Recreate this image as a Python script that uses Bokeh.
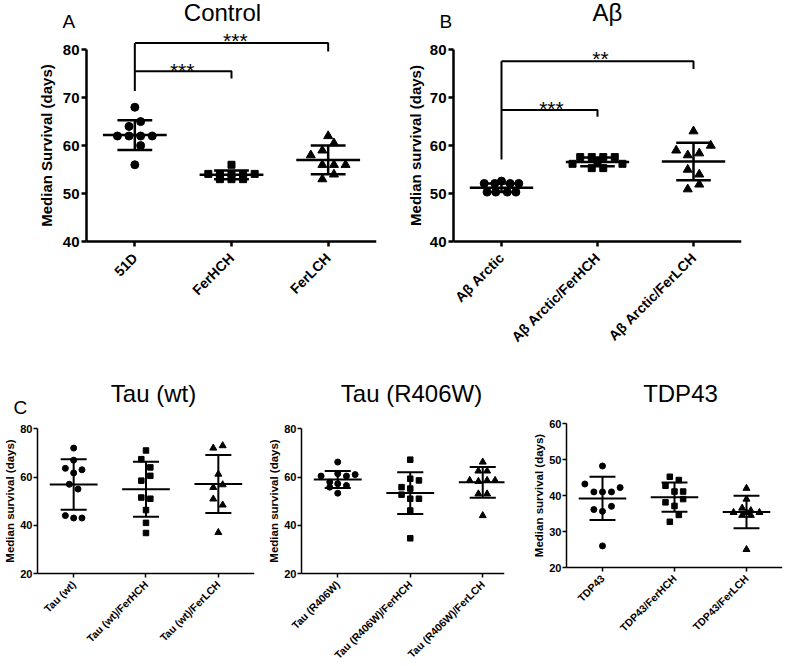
import math
import numpy as np
from bokeh.plotting import figure
from bokeh.models import FixedTicker
from bokeh.layouts import row, column
from bokeh.core.properties import value
from bokeh.embed import file_html
from bokeh.resources import INLINE

FONT = "Liberation Sans"

# ---------------- Panel A: Control ----------------
a_labels = ["51D", "FerHCH", "FerLCH"]
a_51d = [68, 65, 64, 62, 62, 62, 62, 60, 56]
a_51d_dx = [0, .06, -.06, -.18, -.06, .06, .18, .06, 0]
a_ferhch = [56, 54.1, 54.1, 54.1, 54.1, 54.1, 53.0, 53.0, 53.0]
a_ferhch_dx = [0, -.24, -.12, 0, .12, .24, -.12, 0, .12]
a_ferlch = [62, 60.5, 59, 58, 56, 56, 56, 54, 53]
a_ferlch_dx = [0, .06, -.06, -.18, -.06, .06, .18, .06, -.06]
a_mean = [62.2, 53.9, 57.0]
a_sd = [3.1, 0.9, 3.0]
a_yticks = [40, 50, 60, 70, 80]
# (end group, bracket height, drop end, stars, star x, star y)
a_brackets = [(1, 75.5, 74.0, "***", 0.49, 75.56), (2, 81.4, 79.6, "***", 1.04, 82.02)]
a_bracket_base = 71.4

# ---------------- Panel B: Abeta ----------------
b_labels = ["A\u03b2 Arctic", "A\u03b2 Arctic/FerHCH", "A\u03b2 Arctic/FerLCH"]
b_arc = [52.6, 52.1, 52.1, 52.1, 52.1, 50.3, 50.3, 50.3, 50.3]
b_arc_dx = [0, -.18, -.07, .09, .18, -.15, -.06, .06, .15]
b_hch = [57.6, 57.6, 57.6, 57.6, 56.2, 56.2, 55.3, 55.3, 56.8]
b_hch_dx = [-.18, -.06, .06, .18, -.26, .26, -.06, .06, 0]
b_lch = [63, 60, 59, 58.4, 58, 55, 54, 51.9, 50.9]
b_lch_dx = [0, .18, -.18, .06, -.06, -.06, .06, .06, -.06]
b_mean = [51.2, 56.6, 56.7]
b_sd = [0.9, 0.9, 3.9]
b_yticks = [40, 50, 60, 70, 80]
b_brackets = [(1, 67.4, 66.0, "***", 0.52, 67.8), (2, 77.6, 76.0, "**", 1.03, 78.23)]
b_bracket_base = 57.1

# ---------------- Panel C1: Tau (wt) ----------------
c1_labels = ["Tau (wt)", "Tau (wt)/FerHCH", "Tau (wt)/FerLCH"]
c1_tau = [72, 67, 63.6, 63, 61.7, 57, 55, 44, 43, 43]
c1_tau_dx = [0, 0, -.115, .115, 0, -.06, .06, -.115, 0, .115]
c1_hch = [71, 67.4, 64, 60.5, 58.5, 51.5, 51, 46.3, 41, 36.8]
c1_hch_dx = [0, -.065, .06, .06, -.065, -.065, .06, 0, 0, 0]
c1_lch = [72, 73, 61.2, 55.7, 56.8, 50.9, 48.4, 37]
c1_lch_dx = [-.07, .06, 0, -.07, .06, -.07, .06, 0]
c1_mean = [56.9, 54.9, 57.1]
c1_sd = [10.5, 11.4, 12.0]
c1_yticks = [20, 40, 60, 80]

# ---------------- Panel C2: Tau (R406W) ----------------
c2_labels = ["Tau (R406W)", "Tau (R406W)/FerHCH", "Tau (R406W)/FerLCH"]
c2_tau = [66.2, 60.4, 61.4, 60.4, 61, 57.9, 57.2, 56.5, 55.8, 53.3]
c2_tau_dx = [0, -.23, 0, .12, .24, -.11, 0, .12, -.11, 0]
c2_hch = [67.2, 59.3, 58.6, 55.8, 55.2, 52.7, 51, 51, 46.1, 34.6]
c2_hch_dx = [0, 0, .12, -.12, 0, -.12, .12, 0, 0, 0]
c2_lch = [66.2, 62.5, 62.5, 58.6, 58.2, 58.6, 58.6, 53, 53, 44]
c2_lch_dx = [0, -.06, .06, -.18, -.06, .06, .17, -.06, .06, 0]
c2_mean = [58.95, 53.35, 57.8]
c2_sd = [3.55, 8.65, 6.4]
c2_yticks = [20, 40, 60, 80]

# ---------------- Panel C3: TDP43 ----------------
c3_labels = ["TDP43", "TDP43/FerHCH", "TDP43/FerLCH"]
c3_tdp = [48.2, 43.2, 42.2, 41, 41, 41, 36.1, 35.6, 37, 26]
c3_tdp_dx = [0, -.245, .245, -.12, 0, .125, -.12, 0, .125, 0]
c3_hch = [45.2, 44.3, 42.7, 41.1, 41.1, 39, 38.1, 37.1, 34.6, 32.7]
c3_hch_dx = [-.065, .06, -.125, 0, .12, .12, -.125, 0, .06, -.065]
c3_lch = [42, 39, 36.5, 35.3, 35.8, 35.3, 35.3, 34.5, 34.5, 25]
c3_lch_dx = [0, 0, -.06, -.18, .06, .18, 0, -.06, .06, 0]
c3_mean = [39.2, 39.55, 35.4]
c3_sd = [6.0, 4.05, 4.5]
c3_yticks = [20, 30, 40, 50, 60]

MARKERS = ["circle", "square", "triangle"]


def make_panel(width, height, right_border, x_range, y_range, yticks, labels, ylabel,
               groups, dxs, means, sds, big):
    p = figure(width=width, height=height, x_range=x_range, y_range=y_range,
               output_backend="svg", toolbar_location=None, tools="",
               min_border_left=0, min_border_right=right_border, min_border_top=0,
               min_border_bottom=0)
    p.outline_line_color = None
    p.grid.visible = False
    p.background_fill_color = "white"
    p.border_fill_color = "white"

    if big:
        axis_lw, tick_out, tick_fs, xlab_fs, lab_fs = 2.5, 5, "15px", "14px", "15px"
        sizes = [8, 7, 9]
        bar_lw = 2.5
    else:
        axis_lw, tick_out, tick_fs, xlab_fs, lab_fs = 1.5, 4, "11px", "10.5px", "11.5px"
        sizes = [6, 5.5, 7]
        bar_lw = 2

    for ax in (p.xaxis[0], p.yaxis[0]):
        ax.axis_line_width = axis_lw
        ax.axis_line_color = "black"
        ax.major_tick_line_width = axis_lw
        ax.major_tick_line_color = "black"
        ax.major_tick_out = tick_out
        ax.major_tick_in = 0
        ax.minor_tick_line_color = None
        ax.major_label_text_font = FONT
        ax.major_label_text_font_style = "bold"
        ax.major_label_text_color = "black"
        ax.major_label_standoff = 2 if big else 1

    # axes meet at (x = -0.5, y = lowest tick)
    p.yaxis.fixed_location = -0.5
    p.yaxis.ticker = FixedTicker(ticks=yticks)
    p.yaxis.bounds = (yticks[0], yticks[-1])
    p.yaxis.major_label_text_font_size = tick_fs
    p.yaxis.axis_label = ylabel
    p.yaxis.axis_label_text_font = FONT
    p.yaxis.axis_label_text_font_style = "bold"
    p.yaxis.axis_label_text_font_size = lab_fs
    p.yaxis.axis_label_text_color = "black"
    p.yaxis.axis_label_standoff = 5 if big else 1

    p.xaxis.fixed_location = yticks[0]
    p.xaxis.ticker = FixedTicker(ticks=[0, 1, 2])
    p.xaxis.bounds = (-0.5, x_range[1])
    p.xaxis.major_label_overrides = {i: lab for i, lab in enumerate(labels)}
    p.xaxis.major_label_orientation = math.pi / 4
    p.xaxis.major_label_text_font_size = xlab_fs
    p.xaxis.major_label_standoff = 9 if big else 5

    for i, (vals, dx) in enumerate(zip(groups, dxs)):
        xs = i + np.array(dx, dtype=float)
        p.scatter(x=xs, y=vals, marker=MARKERS[i], size=sizes[i],
                  fill_color="black", line_color="black")

    xc = np.arange(3, dtype=float)
    m = np.array(means, dtype=float)
    s = np.array(sds, dtype=float)
    hw, cw = 0.33, 0.18
    kw = dict(line_color="black", line_width=bar_lw)
    p.segment(x0=xc - hw, y0=m, x1=xc + hw, y1=m, **kw)
    p.segment(x0=xc, y0=m - s, x1=xc, y1=m + s, **kw)
    p.segment(x0=xc - cw, y0=m + s, x1=xc + cw, y1=m + s, **kw)
    p.segment(x0=xc - cw, y0=m - s, x1=xc + cw, y1=m - s, **kw)
    return p


def add_brackets(p, base, brackets):
    top = max(br[1] for br in brackets)
    p.line(x=[0, 0], y=[base, top], line_color="black", line_width=2)
    for (xend, h, drop, stars, sx, sy) in brackets:
        p.line(x=[0, xend, xend], y=[h, h, drop], line_color="black", line_width=2)
        p.text(x=[sx], y=[sy], text=[stars], text_font=value(FONT),
               text_font_size="21px", text_align="center",
               text_baseline="middle", text_color="black")


def add_text(p, x, y, text, size, align="center"):
    p.text(x=[x], y=[y], text=[text], text_font=value(FONT), text_font_size=size,
           text_align=align, text_baseline="middle", text_color="black")


# Top row
pA = make_panel(392, 378, 16, (-1.3896, 2.5), (11.43, 90.26), a_yticks,
                a_labels, "Median Survival (days)", [a_51d, a_ferhch, a_ferlch],
                [a_51d_dx, a_ferhch_dx, a_ferlch_dx], a_mean, a_sd, True)
add_brackets(pA, a_bracket_base, a_brackets)
add_text(pA, 0.907, 87.86, "Control", "24px")
add_text(pA, -0.748, 85.78, "A", "19px", "left")

pB = make_panel(392, 378, 43, (-1.1354, 2.5), (11.43, 90.26), b_yticks,
                b_labels, "Median survival (days)", [b_arc, b_hch, b_lch],
                [b_arc_dx, b_hch_dx, b_lch_dx], b_mean, b_sd, True)
pB.yaxis.axis_label_standoff = 3
add_brackets(pB, b_bracket_base, b_brackets)
add_text(pB, 1.104, 87.82, "A\u03b2", "24px")
add_text(pB, -0.646, 85.88, "B", "19px", "left")

# Bottom row
pC1 = make_panel(262, 286, 8, (-1.0115, 2.5), (-17.73, 100.85), c1_yticks,
                 c1_labels, "Median survival (days)", [c1_tau, c1_hch, c1_lch],
                 [c1_tau_dx, c1_hch_dx, c1_lch_dx], c1_mean, c1_sd, False)
add_text(pC1, 1.104, 94.63, "Tau (wt)", "24px")
add_text(pC1, -0.832, 89.03, "C", "19px", "left")

pC2 = make_panel(262, 286, 20, (-1.0379, 2.3), (-17.73, 100.85), c2_yticks,
                 c2_labels, "Median survival (days)", [c2_tau, c2_hch, c2_lch],
                 [c2_tau_dx, c2_hch_dx, c2_lch_dx], c2_mean, c2_sd, False)
add_text(pC2, 1.017, 94.63, "Tau (R406W)", "24px")

pC3 = make_panel(260, 286, 2, (-1.0833, 2.5), (-6.94, 72.5), c3_yticks,
                 c3_labels, "Median survival (days)", [c3_tdp, c3_hch, c3_lch],
                 [c3_tdp_dx, c3_hch_dx, c3_lch_dx], c3_mean, c3_sd, False)
add_text(pC3, 1.083, 68.33, "TDP43", "24px")

layout = column(row(pA, pB), row(pC1, pC2, pC3))

with open("out.html", "w") as f:
    f.write(file_html(layout, INLINE))
